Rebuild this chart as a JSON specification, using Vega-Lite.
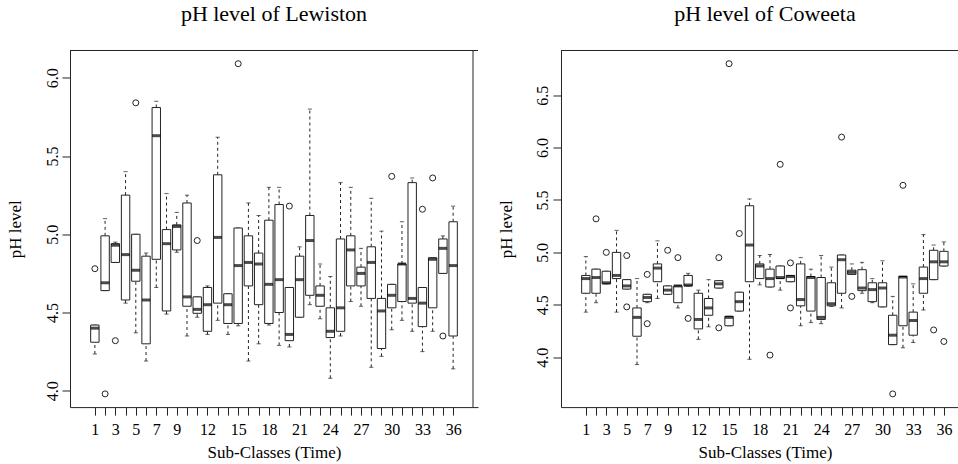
{
  "$schema": "https://vega.github.io/schema/vega-lite/v6.json",
  "padding": {"left": 6, "top": 2.5, "right": 0, "bottom": 8},
  "background": "white",
  "bounds": "flush",
  "spacing": 83,
  "datasets": {
    "lew": [
      {"x": 1, "min": 4.235, "q1": 4.31, "med": 4.40, "q3": 4.42, "max": 4.42},
      {"x": 2, "min": 4.64, "q1": 4.64, "med": 4.69, "q3": 4.99, "max": 5.10},
      {"x": 3, "min": 4.82, "q1": 4.82, "med": 4.93, "q3": 4.94, "max": 4.95},
      {"x": 4, "min": 4.56, "q1": 4.58, "med": 4.87, "q3": 5.25, "max": 5.40},
      {"x": 5, "min": 4.37, "q1": 4.70, "med": 4.77, "q3": 5.00, "max": 5.00},
      {"x": 6, "min": 4.19, "q1": 4.30, "med": 4.58, "q3": 4.86, "max": 4.88},
      {"x": 7, "min": 4.66, "q1": 4.84, "med": 5.63, "q3": 5.81, "max": 5.85},
      {"x": 8, "min": 4.49, "q1": 4.51, "med": 4.94, "q3": 5.03, "max": 5.26},
      {"x": 9, "min": 4.885, "q1": 4.90, "med": 5.05, "q3": 5.06, "max": 5.14},
      {"x": 10, "min": 4.35, "q1": 4.54, "med": 4.60, "q3": 5.20, "max": 5.25},
      {"x": 11, "min": 4.47, "q1": 4.495, "med": 4.52, "q3": 4.60, "max": 4.60},
      {"x": 12, "min": 4.36, "q1": 4.38, "med": 4.55, "q3": 4.66, "max": 4.67},
      {"x": 13, "min": 4.45, "q1": 4.56, "med": 4.98, "q3": 5.38, "max": 5.62},
      {"x": 14, "min": 4.36, "q1": 4.43, "med": 4.55, "q3": 4.62, "max": 4.62},
      {"x": 15, "min": 4.415, "q1": 4.43, "med": 4.80, "q3": 5.04, "max": 5.04},
      {"x": 16, "min": 4.19, "q1": 4.67, "med": 4.82, "q3": 4.99, "max": 5.20},
      {"x": 17, "min": 4.30, "q1": 4.55, "med": 4.81, "q3": 4.88, "max": 5.12},
      {"x": 18, "min": 4.42, "q1": 4.43, "med": 4.68, "q3": 5.09, "max": 5.30},
      {"x": 19, "min": 4.29, "q1": 4.50, "med": 4.71, "q3": 5.19, "max": 5.30},
      {"x": 20, "min": 4.28, "q1": 4.32, "med": 4.36, "q3": 4.66, "max": 4.66},
      {"x": 21, "min": 4.47, "q1": 4.47, "med": 4.71, "q3": 4.86, "max": 4.92},
      {"x": 22, "min": 4.55, "q1": 4.61, "med": 4.96, "q3": 5.12, "max": 5.80},
      {"x": 23, "min": 4.46, "q1": 4.54, "med": 4.61, "q3": 4.67, "max": 4.81},
      {"x": 24, "min": 4.08, "q1": 4.34, "med": 4.38, "q3": 4.53, "max": 4.73},
      {"x": 25, "min": 4.35, "q1": 4.38, "med": 4.53, "q3": 4.97, "max": 5.33},
      {"x": 26, "min": 4.57, "q1": 4.67, "med": 4.90, "q3": 4.99, "max": 5.30},
      {"x": 27, "min": 4.54, "q1": 4.67, "med": 4.75, "q3": 4.79, "max": 4.91},
      {"x": 28, "min": 4.15, "q1": 4.59, "med": 4.82, "q3": 4.92, "max": 5.23},
      {"x": 29, "min": 4.22, "q1": 4.27, "med": 4.51, "q3": 4.59, "max": 5.02},
      {"x": 30, "min": 4.39, "q1": 4.53, "med": 4.61, "q3": 4.68, "max": 4.68},
      {"x": 31, "min": 4.45, "q1": 4.57, "med": 4.81, "q3": 4.81, "max": 5.08},
      {"x": 32, "min": 4.38, "q1": 4.56, "med": 4.59, "q3": 5.33, "max": 5.36},
      {"x": 33, "min": 4.25, "q1": 4.41, "med": 4.56, "q3": 4.66, "max": 4.66},
      {"x": 34, "min": 4.38, "q1": 4.53, "med": 4.84, "q3": 4.85, "max": 4.85},
      {"x": 35, "min": 4.75, "q1": 4.75, "med": 4.91, "q3": 4.97, "max": 4.99},
      {"x": 36, "min": 4.14, "q1": 4.35, "med": 4.80, "q3": 5.08, "max": 5.18}
    ],
    "lewOut": [
      {"x": 1, "v": 4.78}, {"x": 2, "v": 3.98}, {"x": 3, "v": 4.32}, {"x": 5, "v": 5.84},
      {"x": 11, "v": 4.96}, {"x": 15, "v": 6.09}, {"x": 20, "v": 5.18}, {"x": 30, "v": 5.37},
      {"x": 33, "v": 5.16}, {"x": 34, "v": 5.36}, {"x": 35, "v": 4.35}
    ],
    "cow": [
      {"x": 1, "min": 4.43, "q1": 4.61, "med": 4.75, "q3": 4.78, "max": 4.96},
      {"x": 2, "min": 4.52, "q1": 4.61, "med": 4.76, "q3": 4.84, "max": 4.84},
      {"x": 3, "min": 4.70, "q1": 4.70, "med": 4.71, "q3": 4.82, "max": 4.82},
      {"x": 4, "min": 4.43, "q1": 4.75, "med": 4.78, "q3": 5.00, "max": 5.21},
      {"x": 5, "min": 4.65, "q1": 4.65, "med": 4.68, "q3": 4.74, "max": 4.74},
      {"x": 6, "min": 3.93, "q1": 4.20, "med": 4.38, "q3": 4.47, "max": 4.75},
      {"x": 7, "min": 4.52, "q1": 4.53, "med": 4.57, "q3": 4.60, "max": 4.60},
      {"x": 8, "min": 4.56, "q1": 4.72, "med": 4.85, "q3": 4.89, "max": 5.11},
      {"x": 9, "min": 4.60, "q1": 4.60, "med": 4.64, "q3": 4.68, "max": 4.68},
      {"x": 10, "min": 4.47, "q1": 4.52, "med": 4.68, "q3": 4.68, "max": 4.68},
      {"x": 11, "min": 4.68, "q1": 4.68, "med": 4.69, "q3": 4.78, "max": 4.80},
      {"x": 12, "min": 4.17, "q1": 4.27, "med": 4.36, "q3": 4.61, "max": 4.64},
      {"x": 13, "min": 4.29, "q1": 4.40, "med": 4.47, "q3": 4.56, "max": 4.74},
      {"x": 14, "min": 4.66, "q1": 4.66, "med": 4.70, "q3": 4.73, "max": 4.73},
      {"x": 15, "min": 4.30, "q1": 4.30, "med": 4.38, "q3": 4.39, "max": 4.39},
      {"x": 16, "min": 4.44, "q1": 4.44, "med": 4.53, "q3": 4.62, "max": 4.62},
      {"x": 17, "min": 3.98, "q1": 4.72, "med": 5.07, "q3": 5.445, "max": 5.51},
      {"x": 18, "min": 4.69, "q1": 4.75, "med": 4.87, "q3": 4.89, "max": 4.97},
      {"x": 19, "min": 4.67, "q1": 4.67, "med": 4.75, "q3": 4.84, "max": 4.98},
      {"x": 20, "min": 4.64, "q1": 4.75, "med": 4.76, "q3": 4.87, "max": 4.87},
      {"x": 21, "min": 4.72, "q1": 4.72, "med": 4.77, "q3": 4.78, "max": 4.78},
      {"x": 22, "min": 4.30, "q1": 4.49, "med": 4.55, "q3": 4.89, "max": 4.95},
      {"x": 23, "min": 4.33, "q1": 4.44, "med": 4.76, "q3": 4.77, "max": 4.84},
      {"x": 24, "min": 4.32, "q1": 4.36, "med": 4.38, "q3": 4.76, "max": 4.97},
      {"x": 25, "min": 4.485, "q1": 4.49, "med": 4.51, "q3": 4.71, "max": 4.86},
      {"x": 26, "min": 4.47, "q1": 4.61, "med": 4.93, "q3": 4.975, "max": 4.975},
      {"x": 27, "min": 4.79, "q1": 4.79, "med": 4.81, "q3": 4.83, "max": 4.89},
      {"x": 28, "min": 4.61, "q1": 4.635, "med": 4.66, "q3": 4.835, "max": 4.905},
      {"x": 29, "min": 4.52, "q1": 4.53, "med": 4.645, "q3": 4.71, "max": 4.75},
      {"x": 30, "min": 4.48, "q1": 4.48, "med": 4.66, "q3": 4.71, "max": 4.92},
      {"x": 31, "min": 4.12, "q1": 4.12, "med": 4.21, "q3": 4.40, "max": 4.58},
      {"x": 32, "min": 4.09, "q1": 4.30, "med": 4.765, "q3": 4.77, "max": 4.77},
      {"x": 33, "min": 4.14, "q1": 4.21, "med": 4.35, "q3": 4.43, "max": 4.70},
      {"x": 34, "min": 4.45, "q1": 4.61, "med": 4.75, "q3": 4.86, "max": 5.17},
      {"x": 35, "min": 4.74, "q1": 4.74, "med": 4.91, "q3": 5.02, "max": 5.07},
      {"x": 36, "min": 4.87, "q1": 4.87, "med": 4.91, "q3": 5.01, "max": 5.10}
    ],
    "cowOut": [
      {"x": 2, "v": 5.32}, {"x": 3, "v": 5.00}, {"x": 5, "v": 4.97}, {"x": 5, "v": 4.48},
      {"x": 7, "v": 4.79}, {"x": 7, "v": 4.32}, {"x": 9, "v": 5.02}, {"x": 10, "v": 4.95},
      {"x": 11, "v": 4.37}, {"x": 14, "v": 4.95}, {"x": 14, "v": 4.28}, {"x": 15, "v": 6.80},
      {"x": 16, "v": 5.18}, {"x": 19, "v": 4.02}, {"x": 20, "v": 5.84}, {"x": 21, "v": 4.90},
      {"x": 21, "v": 4.47}, {"x": 26, "v": 6.10}, {"x": 27, "v": 4.58}, {"x": 31, "v": 3.65},
      {"x": 32, "v": 5.64}, {"x": 35, "v": 4.26}, {"x": 36, "v": 4.15}
    ]
  },
  "config": {
    "view": {"stroke": null},
    "font": "Liberation Serif",
    "axis": {
      "grid": false, "domainColor": "#222", "tickColor": "#222", "domainWidth": 1, "tickWidth": 1,
      "tickSize": 8, "labelColor": "black", "titleColor": "black",
      "labelFont": "Liberation Serif", "titleFont": "Liberation Serif",
      "labelFontSize": 16, "titleFontSize": 17, "titleFontWeight": "normal"
    },
    "title": {"font": "Liberation Serif", "fontSize": 22, "fontWeight": "normal", "color": "black", "anchor": "middle", "frame": "group"}
  },
  "hconcat": [
    {
      "width": 408, "height": 356.6,
      "title": {"text": "pH level of Lewiston", "offset": 7, "baseline": "alphabetic"},
      "layer": [
        {
          "data": {"name": "lew"},
          "encoding": {
            "x": {"field": "x", "type": "quantitative",
              "scale": {"domain": [-0.94, 37.94], "nice": false, "zero": false},
              "axis": {"values": [1,2,3,4,5,6,7,8,9,10,11,12,13,14,15,16,17,18,19,20,21,22,23,24,25,26,27,28,29,30,31,32,33,34,35,36],
                "tickCount": 36,
                "labelExpr": "indexof([1,3,5,7,9,12,15,18,21,24,27,30,33,36], datum.value) >= 0 ? datum.label : ''",
                "title": "Sub-Classes (Time)", "titleX": 204, "titleY": 50, "titleBaseline": "alphabetic",
                "labelPadding": 19, "labelBaseline": "alphabetic", "labelOverlap": false, "labelFlush": false, "labelAngle": 0}}
          },
          "layer": [
            {"mark": {"type": "rule", "strokeDash": [3, 3], "color": "#222", "strokeWidth": 1},
             "encoding": {"y": {"field": "min", "type": "quantitative", "scale": {"domain": [3.8956, 6.1744], "nice": false, "zero": false},
               "axis": {"values": [4, 4.5, 5, 5.5, 6], "format": ".1f", "title": "pH level", "labelAngle": -90, "labelAlign": "center",
                 "labelBaseline": "alphabetic", "labelPadding": 5, "titleX": -49.3, "titleY": 178.3, "titleAngle": -90,
                 "titleBaseline": "alphabetic", "titleAlign": "center"}},
               "y2": {"field": "q1"}}},
            {"mark": {"type": "rule", "strokeDash": [3, 3], "color": "#222", "strokeWidth": 1},
             "encoding": {"y": {"field": "q3", "type": "quantitative", "scale": {"domain": [3.8956, 6.1744], "nice": false, "zero": false}}, "y2": {"field": "max"}}},
            {"mark": {"type": "tick", "orient": "horizontal", "size": 4.2, "thickness": 1, "color": "#222"},
             "encoding": {"y": {"field": "min", "type": "quantitative", "scale": {"domain": [3.8956, 6.1744], "nice": false, "zero": false}}}},
            {"mark": {"type": "tick", "orient": "horizontal", "size": 4.2, "thickness": 1, "color": "#222"},
             "encoding": {"y": {"field": "max", "type": "quantitative", "scale": {"domain": [3.8956, 6.1744], "nice": false, "zero": false}}}},
            {"mark": {"type": "bar", "orient": "vertical", "size": 8.4, "fill": "white", "stroke": "#222", "strokeWidth": 1},
             "encoding": {"y": {"field": "q1", "type": "quantitative", "scale": {"domain": [3.8956, 6.1744], "nice": false, "zero": false}}, "y2": {"field": "q3"}}},
            {"mark": {"type": "tick", "orient": "horizontal", "size": 8.4, "thickness": 3, "color": "black"},
             "encoding": {"y": {"field": "med", "type": "quantitative", "scale": {"domain": [3.8956, 6.1744], "nice": false, "zero": false}}}}
          ]
        },
        {
          "data": {"name": "lewOut"},
          "mark": {"type": "point", "shape": "circle", "size": 36, "filled": false, "stroke": "#222", "strokeWidth": 1, "opacity": 1},
          "encoding": {
            "x": {"field": "x", "type": "quantitative", "scale": {"domain": [-0.94, 37.94], "nice": false, "zero": false}},
            "y": {"field": "v", "type": "quantitative", "scale": {"domain": [3.8956, 6.1744], "nice": false, "zero": false}}
          }
        },
        {
          "data": {"values": [{"edge": "top"}]},
          "mark": {"type": "rule", "color": "#222", "strokeWidth": 1},
          "encoding": {"y": {"datum": 6.1744, "type": "quantitative", "scale": {"domain": [3.8956, 6.1744], "nice": false, "zero": false}}}
        },
        {
          "data": {"values": [{"edge": "right"}]},
          "mark": {"type": "rule", "color": "#222", "strokeWidth": 1},
          "encoding": {"x": {"datum": 37.94, "type": "quantitative", "scale": {"domain": [-0.94, 37.94], "nice": false, "zero": false}}}
        }
      ]
    },
    {
      "width": 397.7, "height": 356.6,
      "title": {"text": "pH level of Coweeta", "offset": 7, "baseline": "alphabetic", "dx": 5.15},
      "layer": [
        {
          "data": {"name": "cow"},
          "encoding": {
            "x": {"field": "x", "type": "quantitative",
              "scale": {"domain": [-0.94, 36.96], "nice": false, "zero": false},
              "axis": {"values": [1,2,3,4,5,6,7,8,9,10,11,12,13,14,15,16,17,18,19,20,21,22,23,24,25,26,27,28,29,30,31,32,33,34,35,36],
                "tickCount": 36,
                "labelExpr": "indexof([1,3,5,7,9,12,15,18,21,24,27,30,33,36], datum.value) >= 0 ? datum.label : ''",
                "title": "Sub-Classes (Time)", "titleX": 204, "titleY": 50, "titleBaseline": "alphabetic",
                "labelPadding": 19, "labelBaseline": "alphabetic", "labelOverlap": false, "labelFlush": false, "labelAngle": 0}}
          },
          "layer": [
            {"mark": {"type": "rule", "strokeDash": [3, 3], "color": "#222", "strokeWidth": 1},
             "encoding": {"y": {"field": "min", "type": "quantitative", "scale": {"domain": [3.524, 6.926], "nice": false, "zero": false},
               "axis": {"values": [4, 4.5, 5, 5.5, 6, 6.5], "format": ".1f", "title": "pH level", "labelAngle": -90, "labelAlign": "center",
                 "labelBaseline": "alphabetic", "labelPadding": 5, "titleX": -49.3, "titleY": 178.3, "titleAngle": -90,
                 "titleBaseline": "alphabetic", "titleAlign": "center"}},
               "y2": {"field": "q1"}}},
            {"mark": {"type": "rule", "strokeDash": [3, 3], "color": "#222", "strokeWidth": 1},
             "encoding": {"y": {"field": "q3", "type": "quantitative", "scale": {"domain": [3.524, 6.926], "nice": false, "zero": false}}, "y2": {"field": "max"}}},
            {"mark": {"type": "tick", "orient": "horizontal", "size": 4.2, "thickness": 1, "color": "#222"},
             "encoding": {"y": {"field": "min", "type": "quantitative", "scale": {"domain": [3.524, 6.926], "nice": false, "zero": false}}}},
            {"mark": {"type": "tick", "orient": "horizontal", "size": 4.2, "thickness": 1, "color": "#222"},
             "encoding": {"y": {"field": "max", "type": "quantitative", "scale": {"domain": [3.524, 6.926], "nice": false, "zero": false}}}},
            {"mark": {"type": "bar", "orient": "vertical", "size": 8.4, "fill": "white", "stroke": "#222", "strokeWidth": 1},
             "encoding": {"y": {"field": "q1", "type": "quantitative", "scale": {"domain": [3.524, 6.926], "nice": false, "zero": false}}, "y2": {"field": "q3"}}},
            {"mark": {"type": "tick", "orient": "horizontal", "size": 8.4, "thickness": 3, "color": "black"},
             "encoding": {"y": {"field": "med", "type": "quantitative", "scale": {"domain": [3.524, 6.926], "nice": false, "zero": false}}}}
          ]
        },
        {
          "data": {"name": "cowOut"},
          "mark": {"type": "point", "shape": "circle", "size": 36, "filled": false, "stroke": "#222", "strokeWidth": 1, "opacity": 1},
          "encoding": {
            "x": {"field": "x", "type": "quantitative", "scale": {"domain": [-0.94, 36.96], "nice": false, "zero": false}},
            "y": {"field": "v", "type": "quantitative", "scale": {"domain": [3.524, 6.926], "nice": false, "zero": false}}
          }
        },
        {
          "data": {"values": [{"edge": "top"}]},
          "mark": {"type": "rule", "color": "#222", "strokeWidth": 1},
          "encoding": {"y": {"datum": 6.926, "type": "quantitative", "scale": {"domain": [3.524, 6.926], "nice": false, "zero": false}}}
        }
      ]
    }
  ]
}
